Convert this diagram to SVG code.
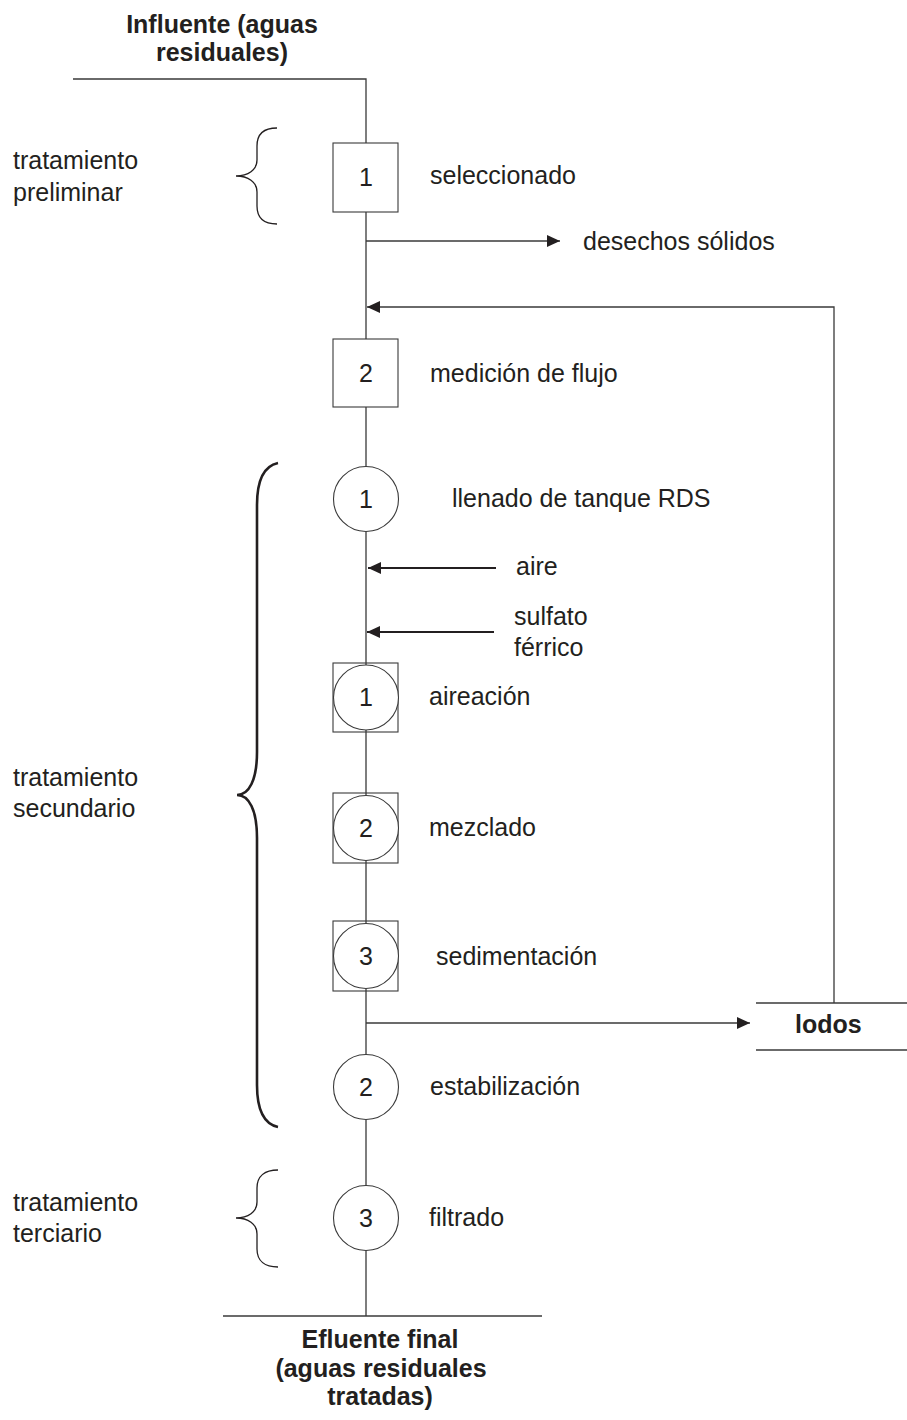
<svg xmlns="http://www.w3.org/2000/svg" width="907" height="1420" viewBox="0 0 907 1420">
<style>
  text { font-family: "Liberation Sans", Arial, sans-serif; font-size: 25px; fill: #231f20; }
  .b { font-weight: bold; }
  .m { text-anchor: middle; }
  .ln { stroke: #3a3a3a; stroke-width: 1.3; fill: none; }
  .thick { stroke: #231f20; stroke-width: 2; }
  .nd { stroke: #3a3a3a; stroke-width: 1.1; fill: #fff; }
  .sq { stroke: #3a3a3a; stroke-width: 1.1; fill: none; }
  .br { stroke: #231f20; stroke-width: 1.3; fill: none; }
  .brk { stroke-width: 2.6; }
</style>
<defs>
  <marker id="ah" viewBox="0 0 13 12" refX="13" refY="6" markerWidth="13" markerHeight="12" markerUnits="userSpaceOnUse" orient="auto">
    <path d="M0,0 L13,6 L0,12 Z" fill="#231f20"/>
  </marker>
</defs>
<rect width="907" height="1420" fill="#fff"/>

<g id="titles">
  <text class="b m" x="222" y="33">Influente (aguas</text>
  <text class="b m" x="222" y="61">residuales)</text>
  <text class="b m" x="380" y="1348">Efluente final</text>
  <text class="b m" x="381" y="1377">(aguas residuales</text>
  <text class="b m" x="380" y="1405">tratadas)</text>
</g>

<g id="connectors">
  <polyline class="ln" points="73,79 366,79 366,1316"/>
  <line class="ln" x1="223" y1="1316" x2="542" y2="1316"/>
  <line class="ln" x1="366" y1="241" x2="560" y2="241" marker-end="url(#ah)"/>
  <polyline class="ln" points="834,1003 834,307 367,307" marker-end="url(#ah)"/>
  <line class="ln thick" x1="496" y1="568" x2="368" y2="568" marker-end="url(#ah)"/>
  <line class="ln thick" x1="494" y1="632" x2="367" y2="632" marker-end="url(#ah)"/>
  <line class="ln" x1="366" y1="1023" x2="750" y2="1023" marker-end="url(#ah)"/>
</g>

<g id="brace-preliminar">
  <path class="br" d="M277,128 C264,128 257,134 257,146 L257,160 C257,170 248,176 236,176 C248,176 257,182 257,192 L257,206 C257,218 264,224 277,224"/>
  <text x="13" y="169">tratamiento</text>
  <text x="13" y="201">preliminar</text>
</g>
<g id="brace-secundario">
  <path class="br brk" d="M278,463 C264,466 257,480 257,505 L257,752 C257,780 249,795 237,795 C249,795 257,810 257,838 L257,1085 C257,1110 264,1124 278,1127"/>
  <text x="13" y="786">tratamiento</text>
  <text x="13" y="817">secundario</text>
</g>
<g id="brace-terciario">
  <path class="br" d="M278,1170 C265,1170 257,1176 257,1188 L257,1202 C257,1212 248,1218 236,1218 C248,1218 257,1224 257,1234 L257,1249 C257,1261 265,1267 278,1267"/>
  <text x="13" y="1211">tratamiento</text>
  <text x="13" y="1242">terciario</text>
</g>

<g id="n-seleccionado">
  <rect class="nd" x="333" y="143" width="65" height="69"/>
  <text class="m" x="366" y="186">1</text>
  <text x="430" y="184">seleccionado</text>
</g>
<g id="n-desechos">
  <text x="583" y="250">desechos sólidos</text>
</g>
<g id="n-medicion">
  <rect class="nd" x="333" y="339" width="65" height="68"/>
  <text class="m" x="366" y="382">2</text>
  <text x="430" y="382">medición de flujo</text>
</g>
<g id="n-llenado">
  <circle class="nd" cx="366" cy="499" r="32.5"/>
  <text class="m" x="366" y="508">1</text>
  <text x="452" y="507">llenado de tanque RDS</text>
</g>
<g id="n-aire">
  <text x="516" y="575">aire</text>
</g>
<g id="n-sulfato">
  <text x="514" y="625">sulfato</text>
  <text x="514" y="656">férrico</text>
</g>
<g id="n-aireacion">
  <rect class="sq" x="333" y="663" width="65" height="69"/>
  <circle class="nd" cx="366" cy="697.5" r="32.5"/>
  <text class="m" x="366" y="706">1</text>
  <text x="429" y="705">aireación</text>
</g>
<g id="n-mezclado">
  <rect class="sq" x="333" y="793" width="65" height="70"/>
  <circle class="nd" cx="366" cy="828" r="32.5"/>
  <text class="m" x="366" y="837">2</text>
  <text x="429" y="836">mezclado</text>
</g>
<g id="n-sedimentacion">
  <rect class="sq" x="333" y="921" width="65" height="70"/>
  <circle class="nd" cx="366" cy="956" r="32.5"/>
  <text class="m" x="366" y="965">3</text>
  <text x="436" y="965">sedimentación</text>
</g>
<g id="n-lodos">
  <line class="ln" x1="756" y1="1003" x2="907" y2="1003"/>
  <line class="ln" x1="756" y1="1050" x2="907" y2="1050"/>
  <text class="b" x="795" y="1033">lodos</text>
</g>
<g id="n-estabilizacion">
  <circle class="nd" cx="366" cy="1087" r="32.5"/>
  <text class="m" x="366" y="1096">2</text>
  <text x="430" y="1095">estabilización</text>
</g>
<g id="n-filtrado">
  <circle class="nd" cx="366" cy="1218" r="32.5"/>
  <text class="m" x="366" y="1227">3</text>
  <text x="429" y="1226">filtrado</text>
</g>
</svg>
